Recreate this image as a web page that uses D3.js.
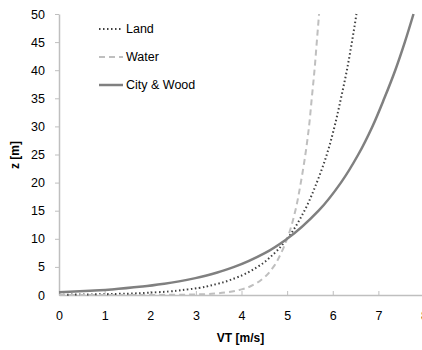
<!DOCTYPE html>
<html>
<head>
<meta charset="utf-8">
<script src="https://cdn.jsdelivr.net/npm/d3@7"></script>
<style>
  html, body { margin: 0; padding: 0; background: #fff; }
  svg { display: block; font-family: "Liberation Sans", Arial, sans-serif; }
</style>
</head>
<body>
<svg id="chart" width="422" height="350"></svg>
<script>
// Wind speed profiles VT (m/s) against height z (m) for three terrain types
const xTicks = [0, 1, 2, 3, 4, 5, 6, 7, 8];
const yTicks = [0, 5, 10, 15, 20, 25, 30, 35, 40, 45, 50];

const landVT  = [0, 0.65, 1.31, 2.17, 2.83, 3.48, 3.86, 4.35, 4.73, 5.00, 5.38, 5.65, 5.87, 6.04, 6.18, 6.31, 6.42, 6.52];
const landZ   = [0.05, 0.1, 0.2, 0.5, 1, 2, 3, 5, 7.5, 10, 15, 20, 25, 30, 35, 40, 45, 50];

const waterVT = [0, 1.0, 2.0, 3.0, 3.48, 3.70, 4.00, 4.30, 4.48, 4.70, 4.87, 5.00, 5.18, 5.30, 5.40, 5.48, 5.54, 5.60, 5.65, 5.70];
const waterZ  = [0.0001, 0.001, 0.01, 0.1, 0.3, 0.5, 1, 2, 3, 5, 7.5, 10, 15, 20, 25, 30, 35, 40, 45, 50];

const cityVT  = [0, 0.68, 1.16, 1.83, 2.31, 2.99, 3.47, 3.84, 4.52, 5.00, 5.69, 6.18, 6.56, 6.87, 7.13, 7.37, 7.58, 7.77];
const cityZ   = [0.5, 0.75, 1, 1.5, 2, 3, 4, 5, 7.5, 10, 15, 20, 25, 30, 35, 40, 45, 50];

const seriesNames = ["Land", "Water", "City & Wood"];
const series = [
  { name: seriesNames[0], vt: landVT,  z: landZ,  color: "#404040", width: 2,   dash: "1.5,2.5" },
  { name: seriesNames[1], vt: waterVT, z: waterZ, color: "#bfbfbf", width: 2,   dash: "6,4" },
  { name: seriesNames[2], vt: cityVT,  z: cityZ,  color: "#808080", width: 2.5, dash: null }
];

const svg = d3.select("#chart");
const x = d3.scaleLinear().domain([0, 8]).range([59, 424]);
const y = d3.scaleLinear().domain([0, 50]).range([295, 14]);
const axisColor = "#bfbfbf";

// y axis: ticks outward on the left
const yAxis = svg.append("g")
  .attr("transform", `translate(${x(0)},0)`)
  .call(d3.axisLeft(y).tickValues(yTicks).tickSize(4).tickSizeOuter(0).tickPadding(10));
// x axis: ticks point up into the plot
const xAxis = svg.append("g")
  .attr("transform", `translate(0,${y(0)})`)
  .call(d3.axisBottom(x).tickValues(xTicks).tickSize(-4).tickSizeOuter(0).tickPadding(16));

[yAxis, xAxis].forEach(g => {
  g.select(".domain").attr("stroke", axisColor).attr("stroke-width", 1.5);
  g.selectAll(".tick line").attr("stroke", axisColor).attr("stroke-width", 1);
  g.selectAll(".tick text").attr("fill", "#000").style("font-size", "12.5px")
    .style("font-family", "'Liberation Sans', Arial, sans-serif");
});
xAxis.selectAll(".tick").filter(d => d === 0).select("line").remove();
yAxis.selectAll(".tick").filter(d => d === 0).select("line").remove();

// curves
const line = d3.line()
  .x(d => x(d[0]))
  .y(d => y(d[1]))
  .curve(d3.curveMonotoneY);

const plot = svg.append("g");
series.forEach(s => {
  const pts = s.vt.map((v, i) => [v, s.z[i]]);
  plot.append("path")
    .datum(pts)
    .attr("fill", "none")
    .attr("stroke", s.color)
    .attr("stroke-width", s.width)
    .attr("stroke-dasharray", s.dash)
    .attr("d", line);
});

// legend
const legendRows = [29, 57, 85];
series.forEach((s, i) => {
  const g = svg.append("g").attr("transform", `translate(99,${legendRows[i]})`);
  g.append("line")
    .attr("x1", 0).attr("x2", 24).attr("y1", 0).attr("y2", 0)
    .attr("stroke", s.color).attr("stroke-width", s.width)
    .attr("stroke-dasharray", s.dash);
  g.append("text")
    .attr("x", 27).attr("y", 0).attr("dy", "0.35em")
    .style("font-size", "12.5px")
    .text(s.name);
});

// axis titles
svg.append("text")
  .attr("x", (x(0) + x(8)) / 2 - 1).attr("y", 338).attr("dy", "0.35em")
  .attr("text-anchor", "middle")
  .style("font-size", "12px").style("font-weight", "bold")
  .text("VT [m/s]");
svg.append("text")
  .attr("transform", `translate(15,155) rotate(-90)`)
  .attr("text-anchor", "middle").attr("dy", "0.35em")
  .style("font-size", "12px").style("font-weight", "bold")
  .text("z [m]");
</script>
</body>
</html>
